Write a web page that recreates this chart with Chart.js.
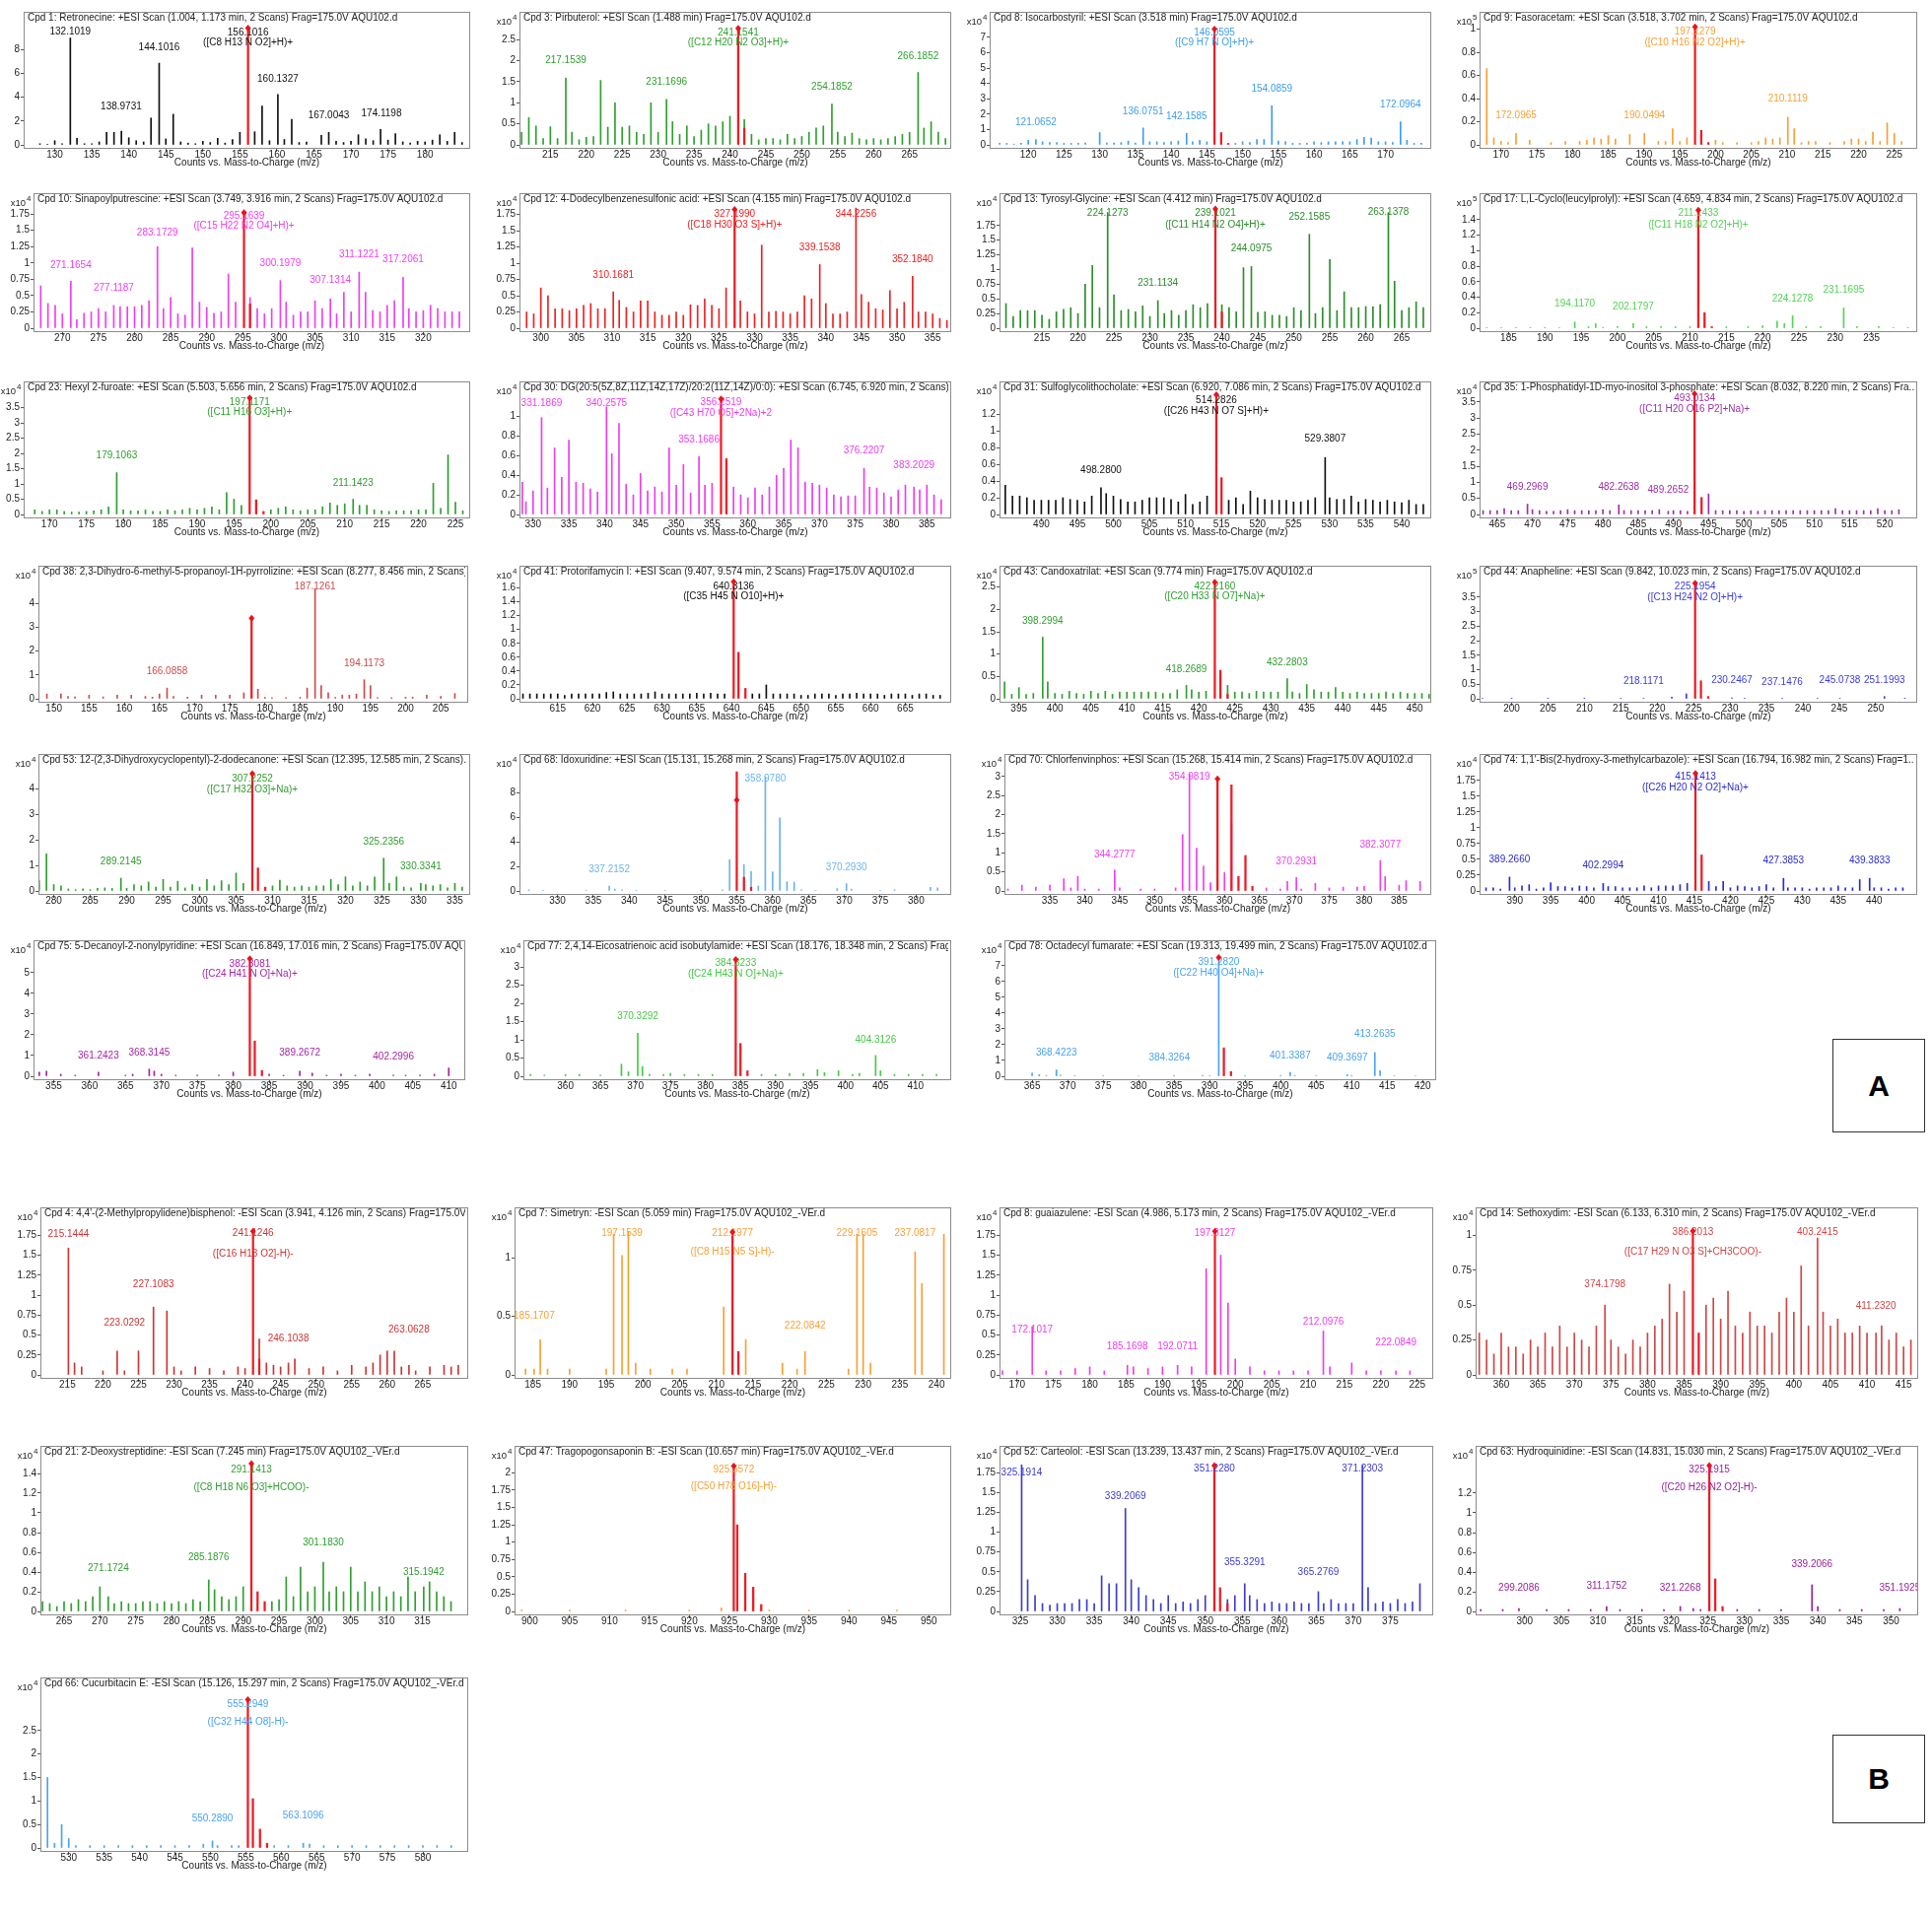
<!DOCTYPE html>
<html>
<head>
<meta charset="utf-8">
<script src="https://cdn.jsdelivr.net/npm/chart.js@4.4.1/dist/chart.umd.min.js"></script>
<style>
body{margin:0;background:#fff;width:1960px;height:1943px;position:relative;overflow:hidden}
canvas{position:absolute}
.tag{position:absolute;border:1px solid #333;font:bold 30px "Liberation Sans",Arial,sans-serif;display:flex;align-items:center;justify-content:center;color:#000}
</style>
</head>
<body>
<div class="tag" style="left:1859px;top:1054px;width:92px;height:93px">A</div>
<div class="tag" style="left:1859px;top:1760px;width:92px;height:88px">B</div>
<script>
// panel titles, A then B
var titles = [
  "Cpd 1: Retronecine: +ESI Scan (1.004, 1.173 min, 2 Scans) Frag=175.0V AQU102.d",
  "Cpd 3: Pirbuterol: +ESI Scan (1.488 min) Frag=175.0V AQU102.d",
  "Cpd 8: Isocarbostyril: +ESI Scan (3.518 min) Frag=175.0V AQU102.d",
  "Cpd 9: Fasoracetam: +ESI Scan (3.518, 3.702 min, 2 Scans) Frag=175.0V AQU102.d",
  "Cpd 10: Sinapoylputrescine: +ESI Scan (3.749, 3.916 min, 2 Scans) Frag=175.0V AQU102.d",
  "Cpd 12: 4-Dodecylbenzenesulfonic acid: +ESI Scan (4.155 min) Frag=175.0V AQU102.d",
  "Cpd 13: Tyrosyl-Glycine: +ESI Scan (4.412 min) Frag=175.0V AQU102.d",
  "Cpd 17: L,L-Cyclo(leucylprolyl): +ESI Scan (4.659, 4.834 min, 2 Scans) Frag=175.0V AQU102.d",
  "Cpd 23: Hexyl 2-furoate: +ESI Scan (5.503, 5.656 min, 2 Scans) Frag=175.0V AQU102.d",
  "Cpd 30: DG(20:5(5Z,8Z,11Z,14Z,17Z)/20:2(11Z,14Z)/0:0): +ESI Scan (6.745, 6.920 min, 2 Scans)..",
  "Cpd 31: Sulfoglycolithocholate: +ESI Scan (6.920, 7.086 min, 2 Scans) Frag=175.0V AQU102.d",
  "Cpd 35: 1-Phosphatidyl-1D-myo-inositol 3-phosphate: +ESI Scan (8.032, 8.220 min, 2 Scans) Fra...",
  "Cpd 38: 2,3-Dihydro-6-methyl-5-propanoyl-1H-pyrrolizine: +ESI Scan (8.277, 8.456 min, 2 Scans)...",
  "Cpd 41: Protorifamycin I: +ESI Scan (9.407, 9.574 min, 2 Scans) Frag=175.0V AQU102.d",
  "Cpd 43: Candoxatrilat: +ESI Scan (9.774 min) Frag=175.0V AQU102.d",
  "Cpd 44: Anapheline: +ESI Scan (9.842, 10.023 min, 2 Scans) Frag=175.0V AQU102.d",
  "Cpd 53: 12-(2,3-Dihydroxycyclopentyl)-2-dodecanone: +ESI Scan (12.395, 12.585 min, 2 Scans)...",
  "Cpd 68: Idoxuridine: +ESI Scan (15.131, 15.268 min, 2 Scans) Frag=175.0V AQU102.d",
  "Cpd 70: Chlorfenvinphos: +ESI Scan (15.268, 15.414 min, 2 Scans) Frag=175.0V AQU102.d",
  "Cpd 74: 1,1'-Bis(2-hydroxy-3-methylcarbazole): +ESI Scan (16.794, 16.982 min, 2 Scans) Frag=1...",
  "Cpd 75: 5-Decanoyl-2-nonylpyridine: +ESI Scan (16.849, 17.016 min, 2 Scans) Frag=175.0V AQU...",
  "Cpd 77: 2,4,14-Eicosatrienoic acid isobutylamide: +ESI Scan (18.176, 18.348 min, 2 Scans) Frag=...",
  "Cpd 78: Octadecyl fumarate: +ESI Scan (19.313, 19.499 min, 2 Scans) Frag=175.0V AQU102.d",
  "Cpd 4: 4,4'-(2-Methylpropylidene)bisphenol: -ESI Scan (3.941, 4.126 min, 2 Scans) Frag=175.0V...",
  "Cpd 7: Simetryn: -ESI Scan (5.059 min) Frag=175.0V AQU102_-VEr.d",
  "Cpd 8: guaiazulene: -ESI Scan (4.986, 5.173 min, 2 Scans) Frag=175.0V AQU102_-VEr.d",
  "Cpd 14: Sethoxydim: -ESI Scan (6.133, 6.310 min, 2 Scans) Frag=175.0V AQU102_-VEr.d",
  "Cpd 21: 2-Deoxystreptidine: -ESI Scan (7.245 min) Frag=175.0V AQU102_-VEr.d",
  "Cpd 47: Tragopogonsaponin B: -ESI Scan (10.657 min) Frag=175.0V AQU102_-VEr.d",
  "Cpd 52: Carteolol: -ESI Scan (13.239, 13.437 min, 2 Scans) Frag=175.0V AQU102_-VEr.d",
  "Cpd 63: Hydroquinidine: -ESI Scan (14.831, 15.030 min, 2 Scans) Frag=175.0V AQU102_-VEr.d",
  "Cpd 66: Cucurbitacin E: -ESI Scan (15.126, 15.297 min, 2 Scans) Frag=175.0V AQU102_-VEr.d"
];

var colors = ["#111111","#2ea02e","#3d9ee9","#f7a035","#f03ef0","#ee2020","#2c8c2c","#55d155",
  "#2e9e2e","#ee3cee","#111111","#9b2fa5","#cf4a4a","#111111","#2f9e2f","#3b3bdf",
  "#2e9e2e","#6cb4ef","#f03ef0","#2b2bd0","#a524a5","#45c845","#4aa3f0",
  "#cc3535","#f7a035","#ee3cee","#d04545","#2f9e2f","#f7a035","#3c3cd0","#9a1f9a","#4aa3f0"];

// exponent of the "x10" multiplier, 0 = none
var mult = [0,4,4,5,4,4,4,5,4,4,4,4,4,4,4,5,4,4,4,4,4,4,4, 4,4,4,4,4,4,4,4,4];

var xMin = [125.8,210.7,114.6,167.0,266.0,297.0,209.1,181.0,166.5,328.1,484.2,462.5,147.8,609.5,392.3,195.6,277.9,324.7,328.5,385.1,352.2,354.0,361.1,
            211.2,182.5,167.6,356.5,261.7,898.1,322.2,293.3,526.0];
var xMax = [186.1,270.8,176.4,228.2,326.5,357.6,269.1,241.3,227.0,388.4,544.1,524.6,208.9,671.6,452.3,255.7,337.1,384.9,389.6,446.0,412.3,415.1,421.9,
            271.4,242.0,227.2,417.0,321.4,952.8,380.8,353.7,586.4];
var yMax = [11.15,3.16,8.66,1.15,2.07,2.08,2.30,1.74,4.36,1.36,1.59,4.14,5.58,1.92,2.98,4.58,5.35,11.15,3.59,2.17,6.56,3.73,8.62,
            2.1,1.43,2.1,1.2,1.68,2.39,2.09,1.68,3.63];

var q = [0,0.25,0.5,0.75,1,1.25,1.5,1.75];
var yTicks = [
  [0,2,4,6,8],[0,0.5,1,1.5,2,2.5],[0,1,2,3,4,5,6,7],[0,0.2,0.4,0.6,0.8,1],
  q,q,q,[0,0.2,0.4,0.6,0.8,1,1.2,1.4],
  [0,0.5,1,1.5,2,2.5,3,3.5],[0,0.2,0.4,0.6,0.8,1],[0,0.2,0.4,0.6,0.8,1,1.2],[0,0.5,1,1.5,2,2.5,3,3.5],
  [0,1,2,3,4],[0,0.2,0.4,0.6,0.8,1,1.2,1.4,1.6],[0,0.5,1,1.5,2,2.5],[0,0.5,1,1.5,2,2.5,3,3.5],
  [0,1,2,3,4],[0,2,4,6,8],[0,0.5,1,1.5,2,2.5,3],q,
  [0,1,2,3,4,5],[0,0.5,1,1.5,2,2.5,3],[0,1,2,3,4,5,6,7],
  q,[0,0.5,1],q,[0,0.25,0.5,0.75,1],
  [0,0.2,0.4,0.6,0.8,1,1.2,1.4],[0,0.25,0.5,0.75,1,1.25,1.5,1.75,2],q,[0,0.2,0.4,0.6,0.8,1,1.2],
  [0,0.5,1,1.5,2,2.5]
];

// peaks in panel colour: m/z, height, m/z, height ...
var s01 = [128,0.1,129,0.05,130,0.35,131,0.1,132.1,8.96,133,0.55,134,0.1,135,0.1,136,0.25,137,1.05,138,1.05,139,1.15,140,0.6,141,0.35,142,0.25,143,2.25,144.1,6.85,145,0.5,146,2.57,147,0.25,148,0.15,149,0.1,150,0.3,151,0.2,152,0.55,153,0.15,154,0.45,155,1.05,157,1.1,158,3.26,159,0.35,160.13,4.22,161,0.45,162,2.14,163,0.2,164,0.25,166,0.8,167,1.05,168,0.3,169,0.2,170,0.3,171,0.85,172,0.5,173,0.35,174,1.3,175,0.4,176,0.95,177,0.25,178,0.15,179,0.3,180,0.25,181,0.4,182,0.85,183,0.3,184,1.05,185,0.2];
var s02 = [211,0.3,212,0.65,213,0.45,214,0.15,215,0.43,216,0.15,217.15,1.59,218,0.3,219,0.12,220,0.18,221,0.2,222,1.53,223,0.42,224,1.0,225,0.42,226,0.45,227,0.3,228,0.25,229,1.0,230,0.3,231.17,1.08,232,0.55,233,0.25,234,0.45,235,0.2,236,0.35,237,0.5,238,0.45,239,0.55,240,0.68,242,0.6,243,0.25,244,0.12,245,0.15,246,0.15,247,0.12,248,0.25,249,0.15,250,0.2,251,0.3,252,0.4,253,0.45,254.19,0.97,255,0.3,256,0.2,257,0.28,258,0.15,259,0.12,260,0.15,261,0.12,262,0.15,263,0.2,264,0.25,265,0.3,266.19,1.72,267,0.4,268,0.55,269,0.3,270,0.15];
var s03 = [116,0.1,117,0.1,118,0.05,119,0.1,120,0.3,121.07,0.35,122,0.2,123,0.15,124,0.15,125,0.1,126,0.1,127,0.1,128,0.12,130,0.8,131,0.12,132,0.12,133,0.15,134,0.25,135,0.12,136.08,1.1,137,0.2,138,0.2,139,0.15,140,0.2,141,0.25,142.16,0.75,143,0.2,144,0.3,145,0.2,149,0.1,150,0.2,151,0.15,152,0.35,153,0.35,154.09,2.55,155,0.25,156,0.2,157,0.1,158,0.1,159,0.1,160,0.2,161,0.15,162,0.2,163,0.2,164,0.2,165,0.2,166,0.35,167,0.5,168,0.45,169,0.2,170,0.2,171,0.15,172.1,1.5,173,0.3,174,0.1,175,0.1];
var s04 = [168,0.66,169,0.06,170,0.03,171,0.02,172.1,0.1,174,0.04,177,0.02,179,0.03,181,0.03,182,0.04,183,0.06,184,0.05,185,0.08,186,0.05,188,0.09,190.05,0.1,192,0.03,193,0.03,194,0.14,195,0.03,196,0.06,200,0.04,201,0.02,203,0.02,205,0.02,206,0.03,207,0.06,208,0.05,209,0.06,210.11,0.24,211,0.14,212,0.02,213,0.03,214,0.03,216,0.02,218,0.03,219,0.05,220,0.05,221,0.03,222,0.11,223,0.03,224,0.19,225,0.1,226,0.03];
var s05 = [266,0.15,267,0.65,268,0.38,269,0.35,270,0.22,271.17,0.72,272,0.13,273,0.23,274,0.25,275,0.3,276,0.25,277.12,0.35,278,0.33,279,0.33,280,0.33,281,0.35,282,0.42,283.17,1.25,284,0.3,285,0.47,286,0.22,287,0.2,288,1.23,289,0.4,290,0.32,291,0.23,292,0.25,293,0.83,294,0.4,296,0.47,297,0.3,298,0.22,299,0.3,300.2,0.73,301,0.4,302,0.2,303,0.25,304,0.25,305,0.42,306,0.3,307.13,0.45,308,0.22,309,0.55,310,0.25,311.12,0.86,312,0.55,313,0.27,314,0.25,315,0.35,316,0.42,317.21,0.78,318,0.3,319,0.25,320,0.27,321,0.35,322,0.3,323,0.25,324,0.25,325,0.25];
var s06 = [298,0.25,299,0.22,300,0.62,301,0.5,302,0.3,303,0.3,304,0.27,305,0.3,306,0.35,307,0.38,308,0.3,309,0.3,310.17,0.56,311,0.43,312,0.32,313,0.25,314,0.42,315,0.42,316,0.25,317,0.2,318,0.2,319,0.25,320,0.2,321,0.36,322,0.35,323,0.45,324,0.35,325,0.3,326,0.62,328,0.42,329,0.25,330,0.22,331,1.28,332,0.25,333,0.26,334,0.25,335,0.22,336,0.25,337,0.5,338,0.45,339.15,0.98,340,0.38,341,0.22,342,0.22,343,0.25,344.23,1.85,345,0.52,346,0.4,347,0.3,348,0.28,349,0.58,350,0.3,351,0.4,352.18,0.8,353,0.25,354,0.25,355,0.22,356,0.15,357,0.12];
var s07 = [210,0.42,211,0.2,212,0.3,213,0.3,214,0.3,215,0.22,216,0.15,217,0.28,218,0.32,219,0.35,220,0.25,221,0.75,222,1.07,223,0.35,224.13,1.97,225,0.57,226,0.3,227,0.32,228,0.28,229,0.38,230,0.2,231.11,0.47,232,0.25,233,0.3,234,0.22,235,0.3,236,0.4,237,0.35,238,0.42,240,0.4,241,0.35,242,0.28,243,1.03,244.1,1.05,245,0.27,246,0.28,247,0.22,248,0.22,249,0.2,250,0.35,251,0.3,252.16,1.6,253,0.25,254,0.35,255,1.17,256,0.3,257,0.62,258,0.35,259,0.35,260,0.37,261,0.37,262,0.4,263.14,1.97,264,0.8,265,0.3,266,0.35,267,0.45,268,0.35];
var s08 = [182,0.01,184,0.01,186,0.01,188,0.01,190,0.01,192,0.01,194.12,0.08,196,0.02,197,0.06,198,0.01,200,0.02,202.18,0.06,204,0.02,206,0.02,208,0.02,210,0.02,215,0.02,218,0.02,220,0.03,222,0.09,223,0.06,224.13,0.16,226,0.02,228,0.02,231.17,0.26,233,0.02,236,0.02,238,0.01,240,0.01];
var s09 = [168,0.15,169,0.1,170,0.15,171,0.15,172,0.1,173,0.08,174,0.08,175,0.1,176,0.12,177,0.15,178,0.25,179.11,1.37,180,0.15,181,0.12,182,0.12,183,0.15,184,0.1,185,0.1,186,0.15,187,0.12,188,0.15,189,0.2,190,0.15,191,0.2,192,0.25,193,0.15,194,0.72,195,0.5,196,0.3,200,0.15,201,0.2,202,0.25,203,0.15,204,0.12,205,0.15,206,0.15,207,0.25,208,0.38,209,0.3,210,0.35,211.14,0.5,212,0.3,213,0.3,214,0.15,215,0.12,216,0.1,217,0.12,218,0.12,219,0.12,220,0.15,221,0.15,222,1.02,223,0.2,224,1.95,225,0.4,226,0.12];
var s10 = [328.5,0.33,329,0.13,330,0.24,331.19,0.99,332,0.27,333,0.68,334,0.38,335,0.76,336,0.33,337,0.32,338,0.26,339,0.23,340.26,1.1,341,0.62,342,0.93,343,0.31,344,0.2,345,0.42,346,0.24,347,0.28,348,0.23,349,0.68,350,0.3,351,0.51,352,0.22,353.17,0.59,354,0.3,355,0.32,358,0.28,359,0.2,360,0.17,361,0.27,362,0.2,363,0.28,364,0.4,365,0.47,366,0.76,367,0.68,368,0.33,369,0.32,370,0.3,371,0.27,372,0.2,373,0.18,374,0.19,375,0.19,376.22,0.47,377,0.28,378,0.27,379,0.22,380,0.18,381,0.25,382,0.3,383.2,0.28,384,0.25,385,0.3,386,0.2,387,0.15];
var s11 = [485,0.35,486,0.22,487,0.22,488,0.2,489,0.17,490,0.17,491,0.17,492,0.17,493,0.2,494,0.18,495,0.17,496,0.15,497,0.22,498.28,0.32,499,0.25,500,0.22,501,0.18,502,0.15,503,0.15,504,0.17,505,0.2,506,0.2,507,0.2,508,0.18,509,0.15,510,0.24,511,0.12,512,0.15,513,0.22,516,0.17,517,0.2,518,0.12,519,0.28,520,0.2,521,0.18,522,0.17,523,0.17,524,0.17,525,0.15,526,0.15,527,0.17,528,0.2,529.38,0.68,530,0.2,531,0.18,532,0.18,533,0.22,534,0.15,535,0.18,536,0.17,537,0.15,538,0.17,539,0.15,540,0.14,541,0.17,542,0.12,543,0.12];
var s12 = [463,0.12,464,0.12,465,0.12,466,0.18,467,0.12,468,0.12,469.3,0.32,470,0.15,471,0.12,472,0.1,473,0.1,474,0.12,475,0.15,476,0.12,477,0.12,478,0.12,479,0.12,480,0.15,481,0.12,482.26,0.3,483,0.12,484,0.12,485,0.12,486,0.12,487,0.12,488,0.15,489.27,0.1,490,0.12,491,0.12,492,0.1,495,0.64,496,0.12,497,0.12,498,0.12,499,0.12,500,0.1,501,0.12,502,0.1,503,0.12,504,0.12,505,0.12,506,0.12,507,0.12,508,0.12,509,0.12,510,0.12,511,0.12,512,0.12,513,0.18,514,0.12,515,0.12,516,0.12,517,0.12,518,0.12,519,0.18,520,0.12,521,0.12,522,0.15];
var s13 = [149,0.2,151,0.2,152,0.1,153,0.08,155,0.15,157,0.08,159,0.15,161,0.15,163,0.1,164,0.07,165,0.2,166.09,0.45,167,0.1,169,0.07,171,0.15,173,0.15,175,0.15,177,0.25,179,0.4,180,0.06,181,0.05,183,0.05,185,0.06,186,0.45,187.13,4.62,188,0.55,189,0.25,190,0.06,191,0.15,192,0.15,193,0.2,194.12,0.8,195,0.55,196,0.05,198,0.05,200,0.07,201,0.07,203,0.15,205,0.1,207,0.22];
var s14 = [610,0.07,611,0.07,612,0.07,613,0.07,614,0.07,615,0.07,616,0.05,617,0.07,618,0.07,619,0.07,620,0.07,621,0.07,622,0.09,623,0.1,624,0.07,625,0.07,626,0.07,627,0.07,628,0.08,629,0.1,630,0.07,631,0.07,632,0.07,633,0.07,634,0.07,635,0.08,636,0.07,637,0.08,638,0.07,639,0.07,643,0.07,644,0.07,645,0.2,646,0.07,647,0.07,648,0.07,649,0.07,650,0.05,651,0.05,652,0.07,653,0.07,654,0.07,655,0.05,656,0.07,657,0.07,658,0.08,659,0.07,660,0.07,661,0.07,662,0.05,663,0.07,664,0.07,665,0.07,666,0.05,667,0.07,668,0.07,669,0.05,670,0.05];
var s15 = [393,0.38,394,0.1,395,0.25,396,0.1,397,0.12,398.3,1.38,399,0.38,400,0.12,401,0.1,402,0.17,403,0.12,404,0.1,405,0.17,406,0.12,407,0.17,408,0.1,409,0.15,410,0.15,411,0.15,412,0.15,413,0.15,414,0.15,415,0.12,416,0.12,417,0.2,418.27,0.3,419,0.2,420,0.15,421,0.17,424,0.3,425,0.15,426,0.15,427,0.12,428,0.17,429,0.15,430,0.15,431,0.15,432.28,0.45,433,0.15,434,0.12,435,0.32,436,0.2,437,0.15,438,0.15,439,0.25,440,0.15,441,0.12,442,0.15,443,0.12,444,0.12,445,0.12,446,0.15,447,0.12,448,0.15,449,0.12,450,0.12,451,0.12,452,0.1];
var s16 = [196,0.01,200,0.01,205,0.01,210,0.01,215,0.01,218.12,0.02,222,0.06,224,0.17,230.25,0.03,232,0.02,237.15,0.02,242,0.02,245.07,0.02,251.2,0.08,254,0.01];
var s17 = [278,0.4,279,1.45,280,0.25,281,0.2,282,0.08,283,0.05,284,0.08,285,0.05,286,0.1,287,0.12,288,0.1,289.21,0.5,290,0.1,291,0.25,292,0.2,293,0.35,294,0.15,295,0.45,296,0.15,297,0.38,298,0.12,299,0.25,300,0.15,301,0.45,302,0.2,303,0.4,304,0.25,305,0.7,306,0.3,310,0.2,311,0.42,312,0.2,313,0.15,314,0.2,315,0.15,316,0.2,317,0.2,318,0.45,319,0.25,320,0.55,321,0.2,322,0.35,323,0.2,324,0.55,325.24,1.28,326,0.3,327,0.55,328,0.15,329,0.12,330.33,0.3,331,0.25,332,0.2,333,0.25,334,0.12,335,0.3,336,0.15];
var s18 = [326,0.1,328,0.05,334,0.05,337.22,0.4,338,0.15,339,0.1,341,0.05,345,0.05,350,0.05,353,0.1,354,2.55,356,2.15,357,1.6,358,0.4,358.98,9.28,360,1.55,361,5.95,362,0.75,363,0.72,364,0.1,366,0.05,369,0.2,370.29,0.6,371,0.15,375,0.05,377,0.1,382,0.3,383,0.25];
var s19 = [329,0.05,331,0.15,333,0.1,335,0.15,337,0.32,338,0.08,339,0.38,340,0.05,342,0.05,344.28,0.55,345,0.08,348,0.05,350,0.05,353,0.08,354,1.48,354.98,3.07,356,1.12,357,0.65,358,0.22,360,0.48,361,1.78,366,0.08,368,0.05,369,0.25,370.29,0.35,371,0.05,373,0.2,375,0.08,377,0.1,379,0.1,380,0.12,382.31,0.8,383,0.38,385,0.15,386,0.27,388,0.25];
var s20 = [386,0.05,387,0.05,388,0.03,389.27,0.22,390,0.05,391,0.08,392,0.1,393,0.03,394,0.05,395,0.13,396,0.07,397,0.07,398,0.05,399,0.08,400,0.07,401,0.05,402.3,0.12,403,0.07,404,0.07,405,0.05,406,0.05,407,0.05,408,0.08,409,0.05,410,0.08,411,0.08,412,0.08,413,0.1,414,0.12,417,0.15,418,0.07,419,0.15,420,0.05,421,0.08,422,0.07,423,0.05,424,0.07,425,0.1,426,0.05,427.39,0.2,428,0.05,429,0.05,430,0.05,431,0.03,432,0.05,433,0.05,434,0.05,435,0.08,436,0.05,437,0.05,438,0.18,439.38,0.2,440,0.05,441,0.05,442,0.03,443,0.05,444,0.05];
var s21 = [353,0.2,354,0.25,356,0.1,358,0.05,361.24,0.2,365,0.05,366,0.1,368.31,0.35,369,0.25,370,0.1,372,0.05,375,0.05,378,0.05,380,0.2,385,0.1,387,0.05,389.27,0.25,391,0.15,393,0.05,395,0.1,397,0.05,399,0.1,402.3,0.05,404,0.05,406,0.05,408,0.1,410,0.4];
var s22 = [355,0.05,357,0.03,360,0.05,362,0.05,365,0.03,368,0.33,369,0.12,370.33,1.18,371,0.27,372,0.05,374,0.05,375,0.08,377,0.05,379,0.05,381,0.05,388,0.05,390,0.05,392,0.08,394,0.08,396,0.18,397,0.1,399,0.15,401,0.05,402,0.08,404.31,0.57,405,0.15,407,0.05,409,0.05,411,0.05,413,0.05];
var s23 = [365,0.2,366,0.1,367,0.05,368.42,0.4,369,0.08,371,0.03,375,0.02,380,0.03,385,0.05,389,0.05,390,0.03,391.28,7.52,395,0.03,400,0.05,401.34,0.25,402,0.05,405,0.03,409.37,0.1,410,0.05,413.26,1.5,414,0.35,416,0.03,419,0.03];
var s24 = [215.14,1.59,216,0.15,217,0.1,220,0.05,222,0.3,223.03,0.05,225,0.3,227.11,0.85,229,0.8,230,0.1,231,0.05,233,0.1,235,0.08,237,0.05,239,0.1,240,0.08,242,0.45,243,0.15,244,0.12,245,0.1,246.1,0.15,247,0.2,249,0.08,251,0.1,253,0.05,255,0.12,257,0.1,258,0.15,259,0.25,260,0.3,261,0.3,262,0.1,263.06,0.12,264,0.05,266,0.1,268,0.12,269,0.1,270,0.12];
var s25 = [184,0.05,185.17,0.05,186,0.3,187,0.05,190,0.05,195,0.05,196,1.2,197.15,1.02,198,1.22,199,0.1,201,0.05,204,0.05,206,0.05,211,0.58,214,0.3,219,0.1,221,0.05,222.08,0.2,228,0.05,229.16,1.2,230,1.2,231,0.1,237.08,1.05,238,0.78,241,1.2];
var s26 = [168,0.05,170,0.05,172.1,0.6,174,0.05,176,0.05,178,0.08,180,0.1,182,0.05,185.17,0.12,186,0.1,188,0.08,190,0.1,192.07,0.12,194,0.1,196,1.33,198,1.5,199,0.9,200,0.2,202,0.1,204,0.05,206,0.05,208,0.05,210,0.05,212.1,0.55,213,0.1,216,0.15,218,0.05,220,0.05,222.08,0.05,224,0.05];
var s27 = [357,0.3,358,0.25,359,0.15,360,0.3,361,0.2,362,0.2,363,0.15,364,0.25,365,0.2,366,0.3,367,0.2,368,0.35,369,0.2,370,0.3,371,0.25,372,0.2,373,0.35,374.18,0.5,375,0.25,376,0.2,377,0.15,378,0.25,379,0.2,380,0.3,381,0.35,382,0.4,383,0.65,384,0.45,385,0.6,388,0.5,389,0.55,390,0.4,391,0.6,392,0.35,393,0.3,394,0.45,395,0.35,396,0.35,397,0.3,398,0.45,399,0.55,400,0.45,401,0.78,402,0.35,403.24,0.98,404,0.45,405,0.35,406,0.4,407,0.3,408,0.3,409,0.35,410,0.3,411.23,0.3,412,0.35,413,0.25,414,0.3,415,0.2,416,0.25];
var s28 = [262,0.1,263,0.08,264,0.05,265,0.1,266,0.08,267,0.12,268,0.1,269,0.15,270,0.25,271.17,0.15,272,0.08,273,0.1,274,0.08,275,0.08,276,0.1,277,0.1,278,0.08,279,0.1,280,0.08,281,0.1,282,0.08,283,0.12,284,0.1,285.19,0.32,286,0.22,287,0.15,288,0.12,289,0.15,290,0.25,294,0.1,295,0.12,296,0.35,297,0.15,298,0.45,299,0.2,300,0.25,301.18,0.5,302,0.2,303,0.25,304,0.2,305,0.45,306,0.2,307,0.3,308,0.2,309,0.25,310,0.15,311,0.2,312,0.15,313,0.35,314,0.2,315.19,0.25,316,0.3,317,0.2,318,0.15,319,0.1];
var s29 = [899,0.02,905,0.02,912,0.02,920,0.02,924,0.05,930,0.02,935,0.02,940,0.02,946,0.02];
var s30 = [325.19,1.85,326,0.4,327,0.2,328,0.1,329,0.08,330,0.1,331,0.1,332,0.1,333,0.15,334,0.15,335,0.1,336,0.45,337,0.35,338,0.35,339.21,1.3,340,0.4,341,0.3,342,0.2,343,0.15,344,0.1,345,0.2,346,0.1,347,0.12,348,0.1,349,0.15,350,0.2,353,0.15,354,0.2,355.33,0.35,356,0.2,357,0.15,358,0.1,359,0.12,360,0.1,361,0.1,362,0.12,363,0.1,364,0.1,365.28,0.25,366,0.1,367,0.15,368,0.1,369,0.1,370,0.1,371.23,1.84,372,0.3,373,0.1,374,0.12,375,0.1,376,0.15,377,0.1,378,0.12,379,0.35];
var s31 = [294,0.02,297,0.02,299.21,0.03,303,0.02,306,0.02,309,0.02,311.18,0.05,313,0.02,316,0.02,319,0.02,321.23,0.05,323,0.03,324,0.02,329,0.02,332,0.02,335,0.02,339.21,0.27,340,0.05,343,0.02,346,0.02,349,0.02,351.19,0.03];
var s32 = [527,1.5,528,0.1,529,0.5,530,0.2,531,0.05,533,0.05,535,0.05,537,0.05,539,0.05,541,0.05,543,0.05,545,0.05,547,0.05,549,0.08,550.29,0.15,551,0.05,553,0.05,554,0.05,559,0.05,561,0.05,563.11,0.1,564,0.08,566,0.05,568,0.05,570,0.05,572,0.05,574,0.05,576,0.05,578,0.05,580,0.05,582,0.05,584,0.05];

// peaks drawn in red (compound ion and its isotopes)
var r01 = [156.1,9.78], r02 = [241.15,2.77,242,0.4], r03 = [146.06,7.53,147,0.8,148,0.1], r04 = [197.13,1.02,198,0.126,199,0.02];
var r05 = [295.16,1.77,296,0.37], r06 = [327.2,1.83], r07 = [239.1,2.03,240,0.28], r08 = [211.14,1.52,212,0.2,213,0.02];
var r09 = [197.12,3.82,198,0.48,199,0.1], r10 = [356.25,1.18,357,0.57], r11 = [514.28,1.43,515,0.44], r12 = [493.01,3.76,494,0.53];
var r13 = [178.1,3.35], r14 = [640.31,1.69,641,0.67,642,0.15], r15 = [422.22,2.61,423,0.64,424,0.1], r16 = [225.2,3.98,226,0.62,227,0.08];
var r17 = [307.23,4.58,308,0.9,309,0.15], r18 = [355.0,9.7,356,1.12,357,0.3], r19 = [359,2.94,361,2.78,362,0.38,363,0.93,364,0.12], r20 = [415.14,1.86,416,0.57];
var r21 = [382.31,5.67,383,1.7,384,0.28], r22 = [384.32,3.2,385,0.9,386,0.15], r23 = [392,1.8,393,0.3];
var r24 = [241.12,1.8,242,0.2], r25 = [212.2,1.22,213,0.2], r26 = [197.2,1.8], r27 = [386.2,1.03,387,0.3];
var r28 = [291.14,1.5,292,0.2,293,0.1], r29 = [925.56,2.1,926,1.25,927,0.55,928,0.35,929,0.1], r30 = [351.23,1.84,352,0.3,353,0.1];
var r31 = [325.19,1.48,326,0.33,327,0.05], r32 = [555.29,3.16,556,1.05,557,0.4,558,0.1];

// red precursor marker: m/z, height
var markers = [[156.1,9.78],[241.15,2.77],[146.06,7.53],[197.13,1.02],[295.16,1.77],[327.2,1.83],[239.1,2.03],[211.14,1.52],
  [197.12,3.82],[356.25,1.18],[514.28,1.43],[493.01,3.76],[178.1,3.38],[640.31,1.69],[422.22,2.61],[225.2,3.98],
  [307.23,4.58],[355.0,7.4],[359,2.94],[415.14,1.86],[382.31,5.67],[384.32,3.2],[391.28,7.52],
  [241.12,1.8],[212.2,1.22],[197.2,1.8],[386.2,1.03],[291.14,1.5],[925.56,2.1],[351.23,1.84],[325.19,1.48],[555.29,3.16]];

// peak labels: m/z, height of text centre, text
var l01 = [[132.1,9.45,"132.1019"],[144.1,8.19,"144.1016"],[138.97,3.23,"138.9731"],[156.1,9.37,"156.1016"],[156.1,8.55,"([C8 H13 N O2]+H)+"],[160.13,5.53,"160.1327"],[167.0,2.49,"167.0043"],[174.12,2.63,"174.1198"]];
var l02 = [[217.15,2.0,"217.1539"],[231.17,1.49,"231.1696"],[241.15,2.67,"241.1541"],[241.15,2.42,"([C12 H20 N2 O3]+H)+"],[254.19,1.37,"254.1852"],[266.19,2.11,"266.1852"]];
var l03 = [[121.07,1.43,"121.0652"],[136.08,2.17,"136.0751"],[142.16,1.85,"142.1585"],[146.06,7.28,"146.0595"],[146.06,6.68,"([C9 H7 N O]+H)+"],[154.09,3.66,"154.0859"],[172.1,2.6,"172.0964"]];
var l04 = [[172.1,0.25,"172.0965"],[190.05,0.25,"190.0494"],[197.13,0.98,"197.1279"],[197.13,0.885,"([C10 H16 N2 O2]+H)+"],[210.11,0.40,"210.1119"]];
var l05 = [[271.17,0.97,"271.1654"],[277.12,0.61,"277.1187"],[283.17,1.46,"283.1729"],[295.16,1.72,"295.1639"],[295.16,1.57,"([C15 H22 N2 O4]+H)+"],[300.2,0.995,"300.1979"],[307.13,0.735,"307.1314"],[311.12,1.135,"311.1221"],[317.21,1.05,"317.2061"]];
var l06 = [[310.17,0.82,"310.1681"],[327.2,1.75,"327.1990"],[327.2,1.59,"([C18 H30 O3 S]+H)+"],[339.15,1.245,"339.1538"],[344.23,1.76,"344.2256"],[352.18,1.06,"352.1840"]];
var l07 = [[224.13,1.96,"224.1273"],[231.11,0.77,"231.1134"],[239.1,1.96,"239.1021"],[239.1,1.76,"([C11 H14 N2 O4]+H)+"],[244.1,1.35,"244.0975"],[252.16,1.89,"252.1585"],[263.14,1.97,"263.1378"]];
var l08 = [[194.12,0.31,"194.1170"],[202.18,0.28,"202.1797"],[211.14,1.48,"211.1433"],[211.14,1.33,"([C11 H18 N2 O2]+H)+"],[224.13,0.38,"224.1278"],[231.17,0.49,"231.1695"]];
var l09 = [[179.11,1.92,"179.1063"],[197.12,3.68,"197.1171"],[197.12,3.34,"([C11 H16 O3]+H)+"],[211.14,1.02,"211.1423"]];
var l10 = [[331.19,1.14,"331.1869"],[340.26,1.14,"340.2575"],[356.25,1.15,"356.2519"],[356.25,1.04,"([C43 H70 O5]+2Na)+2"],[353.17,0.76,"353.1686"],[376.22,0.65,"376.2207"],[383.2,0.5,"383.2029"]];
var l11 = [[498.28,0.53,"498.2800"],[514.28,1.36,"514.2826"],[514.28,1.23,"([C26 H43 N O7 S]+H)+"],[529.38,0.9,"529.3807"]];
var l12 = [[469.3,0.85,"469.2969"],[482.26,0.85,"482.2638"],[489.27,0.77,"489.2652"],[493.01,3.6,"493.0134"],[493.01,3.27,"([C11 H20 O16 P2]+Na)+"]];
var l13 = [[166.09,1.16,"166.0858"],[187.13,4.71,"187.1261"],[194.12,1.47,"194.1173"]];
var l14 = [[640.31,1.62,"640.3136"],[640.31,1.48,"([C35 H45 N O10]+H)+"]];
var l15 = [[398.3,1.73,"398.2994"],[418.27,0.65,"418.2689"],[422.22,2.52,"422.2160"],[422.22,2.3,"([C20 H33 N O7]+Na)+"],[432.28,0.81,"432.2803"]];
var l16 = [[218.12,0.6,"218.1171"],[225.2,3.85,"225.1954"],[225.2,3.5,"([C13 H24 N2 O]+H)+"],[230.25,0.62,"230.2467"],[237.15,0.58,"237.1476"],[245.07,0.62,"245.0738"],[251.2,0.65,"251.1993"]];
var l17 = [[289.21,1.14,"289.2145"],[307.23,4.38,"307.2252"],[307.23,3.96,"([C17 H32 O3]+Na)+"],[325.24,1.92,"325.2356"],[330.33,0.95,"330.3341"]];
var l18 = [[337.22,1.74,"337.2152"],[358.98,9.15,"358.9780"],[370.29,1.93,"370.2930"]];
var l19 = [[344.28,0.96,"344.2777"],[354.98,2.98,"354.9819"],[370.29,0.78,"370.2931"],[382.31,1.21,"382.3077"]];
var l20 = [[389.27,0.5,"389.2660"],[402.3,0.4,"402.2994"],[415.14,1.8,"415.1413"],[415.14,1.63,"([C26 H20 N2 O2]+Na)+"],[427.39,0.48,"427.3853"],[439.38,0.48,"439.3833"]];
var l21 = [[361.24,1.0,"361.2423"],[368.31,1.14,"368.3145"],[382.31,5.43,"382.3081"],[382.31,4.92,"([C24 H41 N O]+Na)+"],[389.27,1.11,"389.2672"],[402.3,0.92,"402.2996"]];
var l22 = [[370.33,1.63,"370.3292"],[384.32,3.1,"384.3233"],[384.32,2.8,"([C24 H43 N O]+Na)+"],[404.31,0.99,"404.3126"]];
var l23 = [[368.42,1.5,"368.4223"],[384.33,1.14,"384.3264"],[391.28,7.26,"391.2820"],[391.28,6.55,"([C22 H40 O4]+Na)+"],[401.34,1.29,"401.3387"],[409.37,1.14,"409.3697"],[413.26,2.64,"413.2635"]];
var l24 = [[215.14,1.76,"215.1444"],[227.11,1.13,"227.1083"],[223.03,0.65,"223.0292"],[241.12,1.78,"241.1246"],[241.12,1.52,"([C16 H18 O2]-H)-"],[246.1,0.46,"246.1038"],[263.06,0.57,"263.0628"]];
var l25 = [[185.17,0.5,"185.1707"],[197.15,1.21,"197.1539"],[212.2,1.21,"212.1977"],[212.2,1.05,"([C8 H15 N5 S]-H)-"],[222.08,0.42,"222.0842"],[229.16,1.21,"229.1605"],[237.08,1.21,"237.0817"]];
var l26 = [[172.1,0.57,"172.1017"],[185.17,0.36,"185.1698"],[192.07,0.36,"192.0711"],[197.2,1.78,"197.8127"],[212.1,0.67,"212.0976"],[222.08,0.4,"222.0849"]];
var l27 = [[374.18,0.65,"374.1798"],[386.2,1.02,"386.2013"],[386.2,0.88,"([C17 H29 N O3 S]+CH3COO)-"],[403.24,1.02,"403.2415"],[411.23,0.49,"411.2320"]];
var l28 = [[271.17,0.44,"271.1724"],[285.19,0.55,"285.1876"],[291.14,1.44,"291.1413"],[291.14,1.26,"([C8 H18 N6 O3]+HCOO)-"],[301.18,0.7,"301.1830"],[315.19,0.4,"315.1942"]];
var l29 = [[925.56,2.05,"925.5572"],[925.56,1.8,"([C50 H78 O16]-H)-"]];
var l30 = [[325.19,1.75,"325.1914"],[339.21,1.45,"339.2069"],[351.23,1.8,"351.2280"],[355.33,0.62,"355.3291"],[365.28,0.5,"365.2769"],[371.23,1.8,"371.2303"]];
var l31 = [[299.21,0.24,"299.2086"],[311.18,0.26,"311.1752"],[321.23,0.24,"321.2268"],[325.19,1.44,"325.1915"],[325.19,1.26,"([C20 H26 N2 O2]-H)-"],[339.21,0.48,"339.2066"],[351.19,0.24,"351.1925"]];
var l32 = [[550.29,0.63,"550.2890"],[555.29,3.05,"555.2949"],[555.29,2.68,"([C32 H44 O8]-H)-"],[563.11,0.68,"563.1096"]];

var specs = [s01,s02,s03,s04,s05,s06,s07,s08,s09,s10,s11,s12,s13,s14,s15,s16,s17,s18,s19,s20,s21,s22,s23,s24,s25,s26,s27,s28,s29,s30,s31,s32];
var reds = [r01,r02,r03,r04,r05,r06,r07,r08,r09,r10,r11,r12,r13,r14,r15,r16,r17,r18,r19,r20,r21,r22,r23,r24,r25,r26,r27,r28,r29,r30,r31,r32];
var labels = [l01,l02,l03,l04,l05,l06,l07,l08,l09,l10,l11,l12,l13,l14,l15,l16,l17,l18,l19,l20,l21,l22,l23,l24,l25,l26,l27,l28,l29,l30,l31,l32];

// plot frames on the page: left, top, right, bottom
var boxes = [
  [24,12,477,151],[527,12,965,151],[1004,12,1452,151],[1501,12,1945,151],
  [34,196,477,337],[527,196,965,337],[1014,196,1452,337],[1501,196,1945,337],
  [24,387,477,526],[527,387,965,526],[1014,387,1452,526],[1501,387,1945,526],
  [39,574,475,713],[527,574,965,713],[1014,574,1452,713],[1501,574,1945,713],
  [39,765,477,908],[527,765,965,908],[1019,765,1452,908],[1501,765,1945,908],
  [34,954,472,1096],[531,954,965,1096],[1019,954,1457,1096],
  [41,1225,475,1399],[522,1225,965,1399],[1014,1225,1454,1399],[1497,1225,1946,1399],
  [41,1467,475,1639],[522,1467,965,1639],[1014,1467,1454,1639],[1497,1467,1946,1639],
  [41,1702,475,1879]
];

var FONT = '"Liberation Sans", Arial, sans-serif';
Chart.defaults.font.family = FONT;
Chart.defaults.color = "#222";

function pairs(a) {
  var out = [];
  for (var i = 0; i < a.length; i += 2) out.push({x: a[i], y: a[i + 1]});
  return out;
}

function annotations(i) {
  return {
    id: "annot" + i,
    afterDatasetsDraw: function(chart) {
      var ctx = chart.ctx, a = chart.chartArea, x = chart.scales.x, y = chart.scales.y;
      ctx.save();
      ctx.beginPath();
      ctx.rect(a.left, a.top, a.right - a.left, a.bottom - a.top);
      ctx.clip();
      ctx.font = "10px " + FONT;
      ctx.textAlign = "center";
      ctx.textBaseline = "middle";
      ctx.fillStyle = colors[i];
      labels[i].forEach(function(l) {
        ctx.fillText(l[2], x.getPixelForValue(l[0]), y.getPixelForValue(l[1]));
      });
      var m = markers[i];
      if (m) {
        var px = x.getPixelForValue(m[0]), py = y.getPixelForValue(m[1]);
        ctx.fillStyle = "#e8141c";
        ctx.beginPath();
        ctx.moveTo(px, py - 3.5); ctx.lineTo(px + 3, py); ctx.lineTo(px, py + 3.5); ctx.lineTo(px - 3, py);
        ctx.closePath();
        ctx.fill();
      }
      ctx.restore();
    },
    afterDraw: function(chart) {
      var ctx = chart.ctx, a = chart.chartArea;
      ctx.save();
      ctx.strokeStyle = "#8c8c8c";
      ctx.lineWidth = 1;
      ctx.strokeRect(Math.round(a.left) + 0.5, Math.round(a.top) + 0.5, Math.round(a.right - a.left) - 1, Math.round(a.bottom - a.top) - 1);
      ctx.beginPath();
      ctx.rect(a.left, a.top, a.right - a.left - 3, 14);
      ctx.clip();
      ctx.fillStyle = "#222";
      ctx.font = "10px " + FONT;
      ctx.textBaseline = "middle";
      ctx.textAlign = "left";
      ctx.fillText(titles[i], a.left + 4, a.top + 6);
      ctx.restore();
      if (mult[i]) {
        ctx.save();
        ctx.fillStyle = "#222";
        ctx.font = "9.5px " + FONT;
        ctx.textBaseline = "middle";
        ctx.textAlign = "right";
        ctx.fillText("x10", a.left - 8, a.top + 10);
        ctx.font = "8px " + FONT;
        ctx.textAlign = "left";
        ctx.fillText(String(mult[i]), a.left - 7, a.top + 6);
        ctx.restore();
      }
    }
  };
}

var LW = 46, TP = 3, RP = 4, BH = 20;

boxes.forEach(function(b, i) {
  var w = b[2] - b[0], h = b[3] - b[1];
  var cv = document.createElement("canvas");
  cv.width = w + LW + RP;
  cv.height = h + TP + BH;
  cv.style.width = cv.width + "px";
  cv.style.height = cv.height + "px";
  cv.style.left = (b[0] - LW) + "px";
  cv.style.top = (b[1] - TP) + "px";
  document.body.appendChild(cv);

  var ymax = yMax[i];
  var ymin = -4 * ymax / (h - 4);

  new Chart(cv, {
    type: "bar",
    data: {
      datasets: [
        {data: pairs(reds[i]), backgroundColor: "#ee1c24", barThickness: 1.6, grouped: false},
        {data: pairs(specs[i]), backgroundColor: colors[i], barThickness: 1, grouped: false}
      ]
    },
    options: {
      responsive: false,
      animation: false,
      devicePixelRatio: 1,
      layout: {padding: {top: TP, right: RP, left: 0, bottom: 0}},
      plugins: {legend: {display: false}, tooltip: {enabled: false}},
      scales: {
        x: {
          type: "linear",
          min: xMin[i],
          max: xMax[i],
          offset: false,
          grid: {display: true, offset: false, drawOnChartArea: false, drawTicks: true, tickLength: 3, color: "#555"},
          border: {display: false},
          ticks: {autoSkip: false, maxRotation: 0, padding: -3,
                  font: {size: 10}, color: "#222", callback: function(v) { return String(v); }},
          // every 5 m/z, leaving out ticks that would sit on the frame edge
          afterBuildTicks: function(s) {
            var t = [], lo = xMin[i], hi = xMax[i], span = hi - lo;
            for (var v = Math.ceil(lo / 5) * 5; v <= hi; v += 5) {
              if ((v - lo) / span > 0.03 && (hi - v) / span > 0.03) t.push({value: v});
            }
            s.ticks = t;
          },
          title: {display: true, text: "Counts vs. Mass-to-Charge (m/z)", font: {size: 10}, color: "#222", padding: 0},
          afterFit: function(s) { s.height = BH; s.paddingLeft = 0; s.paddingRight = 0; }
        },
        y: {
          min: ymin,
          max: ymax,
          grid: {display: true, drawOnChartArea: false, drawTicks: true, tickLength: 3, color: "#555"},
          border: {display: false},
          ticks: {padding: 1, font: {size: 10}, color: "#222", autoSkip: false, callback: function(v) { return String(v); }},
          afterBuildTicks: function(s) { s.ticks = yTicks[i].map(function(v) { return {value: v}; }); },
          afterFit: function(s) { s.width = LW; s.paddingTop = 0; s.paddingBottom = 0; }
        }
      }
    },
    plugins: [annotations(i)]
  });
});
</script>
</body>
</html>
